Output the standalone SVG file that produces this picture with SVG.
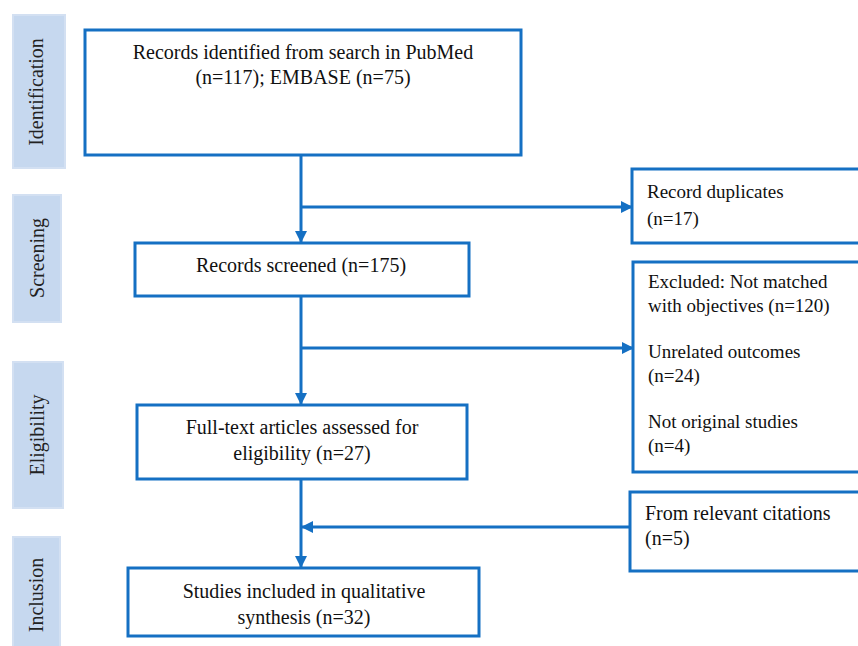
<svg xmlns="http://www.w3.org/2000/svg" width="858" height="646" viewBox="0 0 858 646">
<style>
.bg{fill:#ffffff}
.phase{fill:#c6d8ef;stroke:#d3e0f2;stroke-width:2}
.box{fill:#ffffff;stroke:#1570c3;stroke-width:3}
.conn{fill:none;stroke:#1570c3;stroke-width:3}
text{font-family:"Liberation Serif","Times New Roman",Times,"DejaVu Serif",serif}
.t{font-size:20px;fill:#111111}
.ts{font-size:19px;fill:#111111}
.pl{font-size:20px;fill:#222222}
</style>
<defs>
<marker id="arr" markerUnits="userSpaceOnUse" markerWidth="12" markerHeight="12" refX="11" refY="6" orient="auto">
<path d="M0,0 L12,6 L0,12 z" fill="#1570c3"/>
</marker>
</defs>
<rect class="bg" x="0" y="0" width="858" height="646"/>

<g id="phase-identification" font-family="Liberation Serif, Times New Roman, serif">
<rect class="phase" x="13" y="15" width="52" height="153"/>
<text class="pl" transform="translate(43,92) rotate(-90)" text-anchor="middle">Identification</text>
</g>
<g id="phase-screening" font-family="Liberation Serif, Times New Roman, serif">
<rect class="phase" x="13" y="195" width="48" height="127"/>
<text class="pl" transform="translate(44,258) rotate(-90)" text-anchor="middle">Screening</text>
</g>
<g id="phase-eligibility" font-family="Liberation Serif, Times New Roman, serif">
<rect class="phase" x="13" y="362" width="50" height="146"/>
<text class="pl" transform="translate(44,435) rotate(-90)" text-anchor="middle">Eligibility</text>
</g>
<g id="phase-inclusion" font-family="Liberation Serif, Times New Roman, serif">
<rect class="phase" x="13" y="537" width="47" height="115"/>
<text class="pl" transform="translate(43,595) rotate(-90)" text-anchor="middle">Inclusion</text>
</g>

<g id="connectors">
<line class="conn" x1="301" y1="155" x2="301" y2="242" marker-end="url(#arr)"/>
<line class="conn" x1="301" y1="207" x2="632" y2="207" marker-end="url(#arr)"/>
<line class="conn" x1="301" y1="296" x2="301" y2="404" marker-end="url(#arr)"/>
<line class="conn" x1="301" y1="348" x2="633" y2="348" marker-end="url(#arr)"/>
<line class="conn" x1="301" y1="479" x2="301" y2="567" marker-end="url(#arr)"/>
<line class="conn" x1="630" y1="527" x2="302" y2="527" marker-end="url(#arr)"/>
</g>

<g id="records-identified">
<rect class="box" x="85" y="30" width="436" height="125"/>
<text class="t" x="303" y="59" text-anchor="middle">Records identified from search in PubMed</text>
<text class="t" x="303" y="84" text-anchor="middle">(n=117); EMBASE (n=75)</text>
</g>
<g id="record-duplicates">
<rect class="box" x="632" y="169" width="240" height="74"/>
<text class="ts" x="647" y="198">Record duplicates</text>
<text class="ts" x="647" y="225">(n=17)</text>
</g>
<g id="records-screened">
<rect class="box" x="135" y="243" width="334" height="53"/>
<text class="t" x="301" y="272" text-anchor="middle">Records screened (n=175)</text>
</g>
<g id="excluded">
<rect class="box" x="633" y="262" width="240" height="210"/>
<text class="ts" x="648" y="288">Excluded: Not matched</text>
<text class="ts" x="648" y="312">with objectives (n=120)</text>
<text class="ts" x="648" y="358">Unrelated outcomes</text>
<text class="ts" x="648" y="382">(n=24)</text>
<text class="ts" x="648" y="428">Not original studies</text>
<text class="ts" x="648" y="452">(n=4)</text>
</g>
<g id="full-text">
<rect class="box" x="137" y="405" width="330" height="74"/>
<text class="t" x="302" y="434" text-anchor="middle">Full-text articles assessed for</text>
<text class="t" x="302" y="460" text-anchor="middle">eligibility (n=27)</text>
</g>
<g id="citations">
<rect class="box" x="630" y="492" width="242" height="79"/>
<text class="t" x="645" y="520">From relevant citations</text>
<text class="t" x="645" y="545">(n=5)</text>
</g>
<g id="studies-included">
<rect class="box" x="128" y="568" width="351" height="68"/>
<text class="t" x="304" y="598" text-anchor="middle">Studies included in qualitative</text>
<text class="t" x="304" y="624" text-anchor="middle">synthesis (n=32)</text>
</g>
</svg>
